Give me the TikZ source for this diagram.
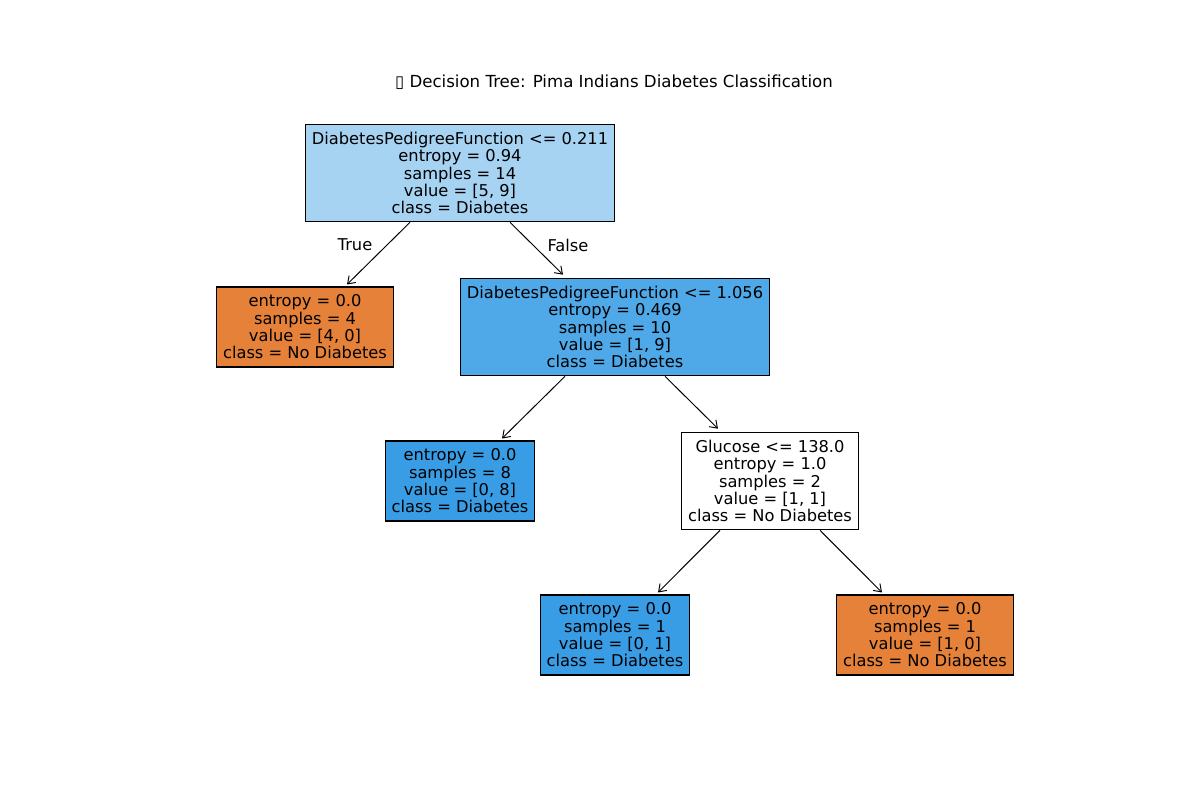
\documentclass[tikz,border=0pt]{standalone}
\usepackage{fontspec}
\setmainfont{DejaVu Sans}
\usetikzlibrary{calc,arrows.meta}
\definecolor{nodiabetes}{RGB}{229,129,57}
\definecolor{diabetes}{RGB}{57,157,229}
\definecolor{rootblue}{RGB}{167,211,243}
\definecolor{splitblue}{RGB}{79,168,232}
\tikzset{
    treenode/.style={draw=black,line width=0.75pt,align=center,
        inner xsep=4.6pt,inner ysep=5.7pt,
        font=\fontsize{11.75}{12.5}\selectfont},
    treeedge/.style={-{Straight Barb[length=5pt,width=7pt]},line width=0.7pt},
    edgelabel/.style={font=\fontsize{11.75}{12.5}\selectfont}
}

\begin{document}
\begin{tikzpicture}[x=0.01in,y=-0.01in]

% Canvas (pixel coordinates, y downwards)
\useasboundingbox (0,0) rectangle (1200,800);
\fill[white] (0,0) rectangle (1200,800);

% Title
\node[font=\fontsize{12}{14}\selectfont] (title) at (614,82)
    {{\fontspec{DejaVu Sans}▯} Decision Tree: Pima Indians Diabetes Classification};

% Level 0
\node[treenode,fill=rootblue] (root) at (460,173) {
    DiabetesPedigreeFunction <= 0.211\\
    entropy = 0.94\\
    samples = 14\\
    value = [5, 9]\\
    class = Diabetes};

% Level 1
\node[treenode,fill=nodiabetes] (leafa) at (305,327) {
    entropy = 0.0\\
    samples = 4\\
    value = [4, 0]\\
    class = No Diabetes};
\node[treenode,fill=splitblue] (split) at (615,327) {
    DiabetesPedigreeFunction <= 1.056\\
    entropy = 0.469\\
    samples = 10\\
    value = [1, 9]\\
    class = Diabetes};

% Level 2
\node[treenode,fill=diabetes] (leafb) at (460,481) {
    entropy = 0.0\\
    samples = 8\\
    value = [0, 8]\\
    class = Diabetes};
\node[treenode,fill=white] (glucose) at (770,481) {
    Glucose <= 138.0\\
    entropy = 1.0\\
    samples = 2\\
    value = [1, 1]\\
    class = No Diabetes};

% Level 3
\node[treenode,fill=diabetes] (leafc) at (615,635) {
    entropy = 0.0\\
    samples = 1\\
    value = [0, 1]\\
    class = Diabetes};
\node[treenode,fill=nodiabetes] (leafd) at (925,635) {
    entropy = 0.0\\
    samples = 1\\
    value = [1, 0]\\
    class = No Diabetes};

% Edges
\draw[treeedge] ($(root.south)+(-50,0)$) -- ($(leafa.north)+(42,-2)$);
\draw[treeedge] ($(root.south)+(50,0)$) -- ($(split.north)+(-52,-3)$);
\draw[treeedge] ($(split.south)+(-50,0)$) -- ($(leafb.north)+(42,-2)$);
\draw[treeedge] ($(split.south)+(50,0)$) -- ($(glucose.north)+(-52,-3)$);
\draw[treeedge] ($(glucose.south)+(-50,0)$) -- ($(leafc.north)+(43,-2)$);
\draw[treeedge] ($(glucose.south)+(50,0)$) -- ($(leafd.north)+(-43,-2)$);

% Branch labels
\node[edgelabel] (truelabel) at (355,245) {True};
\node[edgelabel] (falselabel) at (568,245) {False};

\end{tikzpicture}
\end{document}
